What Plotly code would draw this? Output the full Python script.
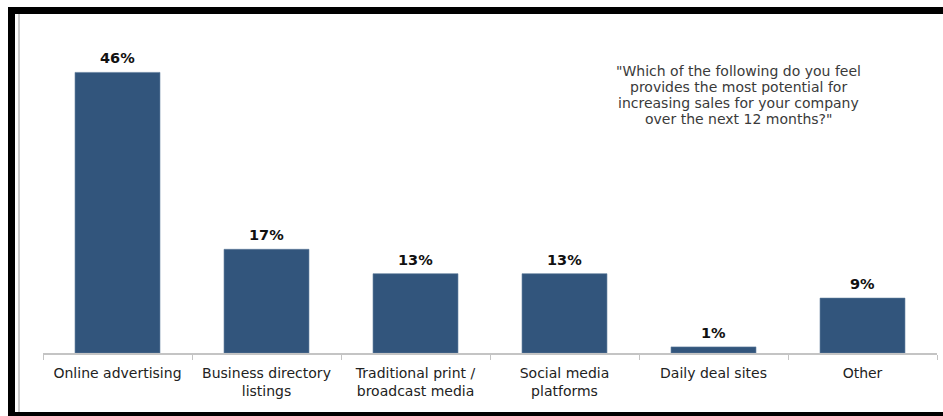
import plotly.graph_objects as go

categories = [
    "Online advertising",
    "Business directory<br>listings",
    "Traditional print /<br>broadcast media",
    "Social media<br>platforms",
    "Daily deal sites",
    "Other",
]
shares = [46, 17, 13, 13, 1, 9]
value_labels = ["46%", "17%", "13%", "13%", "1%", "9%"]
question_lines = [
    '"Which of the following do you feel',
    "provides the most potential for",
    "increasing sales for your company",
    'over the next 12 months?"',
]

W, H = 943, 416
L, R, T, B = 43, 6, 48, 63
plot_w = W - L - R
plot_h = H - T - B


def px_x(p):
    return (p - L) / plot_w


def px_y(p):
    return (H - B - p) / plot_h


bar_color = "#32557C"
font_family = "DejaVu Sans, Verdana, sans-serif"

fig = go.Figure(
    go.Bar(
        x=categories,
        y=shares,
        marker=dict(color=bar_color, line=dict(color="#5a7898", width=0.6)),
        width=0.57,
        hoverinfo="skip",
    )
)

annotations = [
    dict(
        x=c, y=v, xref="x", yref="y", text=f"<b>{t}</b>", showarrow=False,
        yanchor="bottom", yshift=4,
        font=dict(family=font_family, size=14.5, color="#111111"),
    )
    for c, v, t in zip(categories, shares, value_labels)
]
# question text, one line per annotation for tight line spacing
for i, line in enumerate(question_lines):
    annotations.append(
        dict(
            x=px_x(738), y=px_y(71 + 16 * i), xref="paper", yref="paper",
            text=line, showarrow=False, xanchor="center", yanchor="middle",
            font=dict(family=font_family, size=14, color="#3a3a3a"),
        )
    )

frame = dict(type="rect", xref="paper", yref="paper", line=dict(width=0),
             fillcolor="#000000", layer="above")
shapes = [
    dict(frame, x0=px_x(8), x1=px_x(W), y0=px_y(7), y1=px_y(14)),
    dict(frame, x0=px_x(8), x1=px_x(15), y0=px_y(7), y1=px_y(H)),
    dict(frame, x0=px_x(8), x1=px_x(W), y0=px_y(412), y1=px_y(H)),
    dict(type="line", xref="paper", yref="paper", x0=px_x(19), x1=px_x(19),
         y0=px_y(14), y1=px_y(412), line=dict(color="#9a9a9a", width=1)),
]

fig.update_layout(
    width=W, height=H,
    margin=dict(l=L, r=R, t=T, b=B, pad=0),
    paper_bgcolor="white", plot_bgcolor="white",
    showlegend=False,
    annotations=annotations,
    shapes=shapes,
    xaxis=dict(
        showline=True, linecolor="#c4c4c4", linewidth=1.5,
        ticks="outside", tickson="boundaries", ticklen=5, tickcolor="#c4c4c4",
        ticklabelstandoff=6,
        tickfont=dict(family=font_family, size=14, color="#222222"),
        showgrid=False, fixedrange=True,
    ),
    yaxis=dict(range=[0, 50], visible=False, fixedrange=True),
)

fig.write_html("out.html", config={"displayModeBar": False})
